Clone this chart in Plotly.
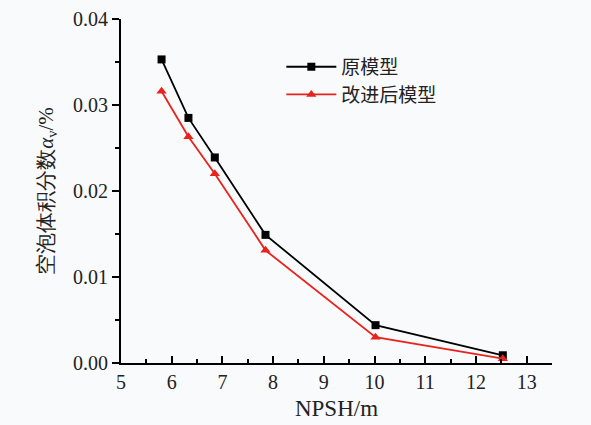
import plotly.graph_objects as go

npsh = [5.8, 6.33, 6.85, 7.85, 10.02, 12.53]
orig = [0.0353, 0.0285, 0.0239, 0.0149, 0.0044, 0.0009]
improved = [0.0316, 0.0263, 0.0220, 0.0131, 0.0030, 0.0005]
names = ["原模型", "改进后模型"]
yticks = [0.00, 0.01, 0.02, 0.03, 0.04]
xticks = [5, 6, 7, 8, 9, 10, 11, 12, 13]

FONT = "Times New Roman, Liberation Serif, serif"

fig = go.Figure()
fig.add_trace(go.Scatter(x=npsh, y=orig, name=names[0], mode="lines+markers",
                         line=dict(color="black", width=1.8),
                         marker=dict(symbol="square", size=8, color="black")))
fig.add_trace(go.Scatter(x=npsh, y=improved, name=names[1], mode="lines+markers",
                         line=dict(color="#e8231c", width=1.8),
                         marker=dict(symbol="triangle-up", size=9, color="#e8231c")))

fig.update_layout(
    width=591, height=425,
    margin=dict(l=121, r=39, t=19, b=62),
    paper_bgcolor="#f9fafc", plot_bgcolor="#f9fafc",
    font=dict(family=FONT, size=20, color="#222"),
    showlegend=True,
    legend=dict(x=0.372, y=0.916, xanchor="left", yanchor="top",
                bgcolor="rgba(0,0,0,0)", itemwidth=50,
                font=dict(family="Noto Sans CJK SC", size=19), tracegroupgap=0),
)
fig.update_xaxes(range=[5, 13.5], tickvals=xticks, showline=True, linecolor="black",
                 linewidth=2, ticks="inside", ticklen=7, tickwidth=2, tickcolor="black",
                 minor=dict(dtick=0.5, ticks="inside", ticklen=4, tickwidth=2, tickcolor="black"),
                 showgrid=False, zeroline=False, mirror=False, automargin=False,
                 title=dict(text="NPSH/m", font=dict(family=FONT, size=23), standoff=8),
                 tickfont=dict(family=FONT, size=20))
fig.update_yaxes(range=[0, 0.04], tickvals=yticks, tickformat=".2f", showline=True,
                 linecolor="black", linewidth=2, ticks="outside", ticklen=7, tickwidth=2,
                 tickcolor="black", automargin=False,
                 minor=dict(dtick=0.005, ticks="outside", ticklen=4, tickwidth=2, tickcolor="black"),
                 showgrid=False, zeroline=False,
                 title=dict(text="空泡体积分数<i>α</i><sub>v</sub>/%",
                            font=dict(family=FONT, size=21), standoff=14),
                 tickfont=dict(family=FONT, size=20))

fig.write_html("out.html")
